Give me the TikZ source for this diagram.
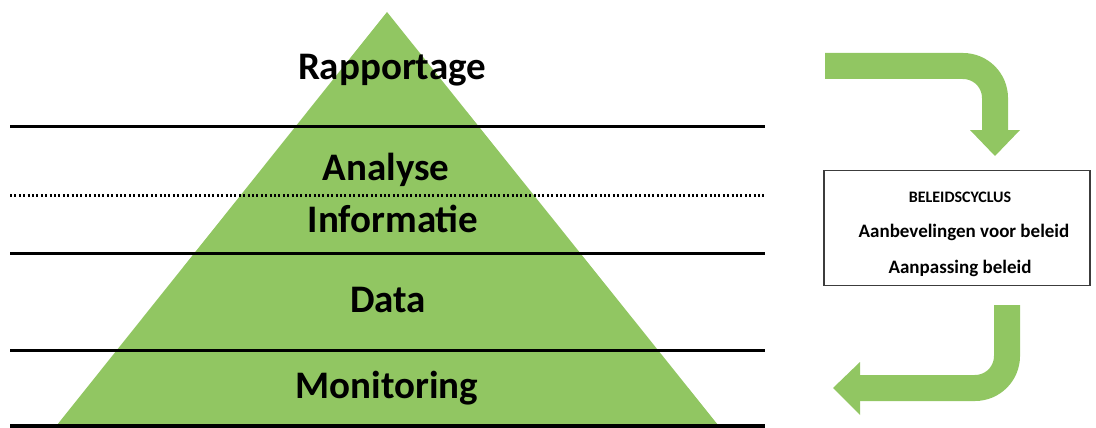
\documentclass[tikz,border=0pt]{standalone}
\usepackage{fontspec}
\setmainfont{Carlito}
\definecolor{pgreen}{RGB}{145,198,98}
\definecolor{boxline}{RGB}{60,60,60}
\tikzset{
  layer/.style={line width=3pt, black},
  dotline/.style={line width=3pt, black, dash pattern=on 2pt off 2.4pt},
  lvl/.style={font=\fontsize{39}{42}\selectfont\bfseries, inner sep=0pt, anchor=center},
  boxtitle/.style={font=\fontsize{16}{18}\selectfont\bfseries, inner sep=0pt},
  boxtxt/.style={font=\fontsize{19}{21}\selectfont\bfseries, inner sep=0pt},
  bigarrow/.style={pgreen, line width=26pt},
}
\begin{document}
\begin{tikzpicture}[x=1pt,y=-1pt]
\useasboundingbox (0,0) rectangle (1096,428);
% pyramid
\fill[pgreen] (387,12) -- (718,425) -- (57,425) -- cycle;
% layer lines
\draw[layer] (10,126) -- (765,126);
\draw[dotline] (10,195) -- (765,195);
\draw[layer] (10,253) -- (765,253);
\draw[layer] (10,350) -- (765,350);
\draw[line width=4pt] (10,426) -- (765,426);
% level labels
\node[lvl] (rap) at (392,70) {Rapportage};
\node[lvl] (ana) at (386,170) {Analyse};
\node[lvl] (inf) at (393,219) {Informatie};
\node[lvl] (dat) at (388,300) {Data};
\node[lvl] (mon) at (387,388) {Monitoring};
% policy box
\node[draw=boxline, line width=1.5pt, minimum width=266pt, minimum height=115pt, inner sep=0pt] (box) at (957,228) {};
\node[boxtitle] (b1) at (960,197) {BELEIDSCYCLUS};
\node[boxtxt] (b2) at (964,232) {Aanbevelingen voor beleid};
\node[boxtxt] (b3) at (960,268) {Aanpassing beleid};
% top arrow
\coordinate (t0) at (825,66);
\coordinate (t1) at (995,131);
\draw[bigarrow, rounded corners=32pt] (t0) -| (t1);
\fill[pgreen] (970,130) -- (1020,130) -- (995,156) -- cycle;
% bottom arrow
\coordinate (u0) at (1007,305);
\coordinate (u1) at (859,388);
\draw[bigarrow, rounded corners=32pt] (u0) |- (u1);
\fill[pgreen] (860,362) -- (860,415) -- (833,388) -- cycle;
\end{tikzpicture}
\end{document}
